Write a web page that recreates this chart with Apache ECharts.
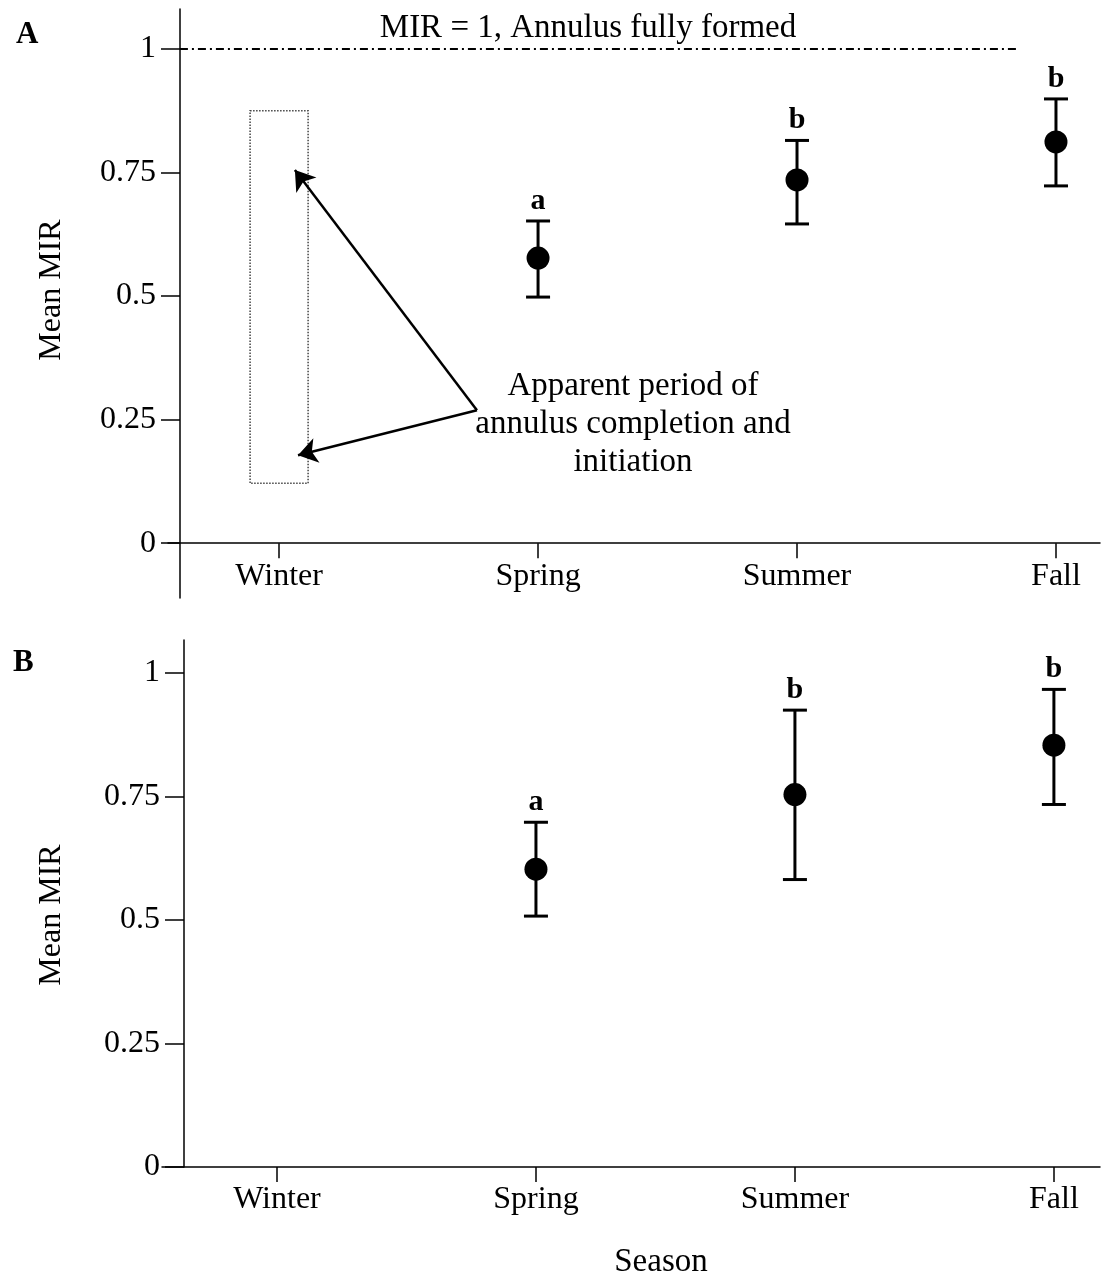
<!DOCTYPE html>
<html><head><meta charset="utf-8">
<script src="https://cdn.jsdelivr.net/npm/echarts@6/dist/echarts.min.js"></script>
<style>html,body{margin:0;padding:0;background:#fff}#c{width:1108px;height:1279px}</style>
</head><body><div id="c"></div>
<script>
// ---- data ----
const seasons = ['Winter', 'Spring', 'Summer', 'Fall'];
const yTicks = [0, 0.25, 0.5, 0.75, 1];
const pointSeasons = ['Spring', 'Summer', 'Fall'];
const meanA = [0.577, 0.735, 0.812];
const lowA = [0.498, 0.646, 0.723];
const highA = [0.652, 0.815, 0.899];
const letterA = ['a', 'b', 'b'];
const meanB = [0.603, 0.754, 0.854];
const lowB = [0.508, 0.582, 0.734];
const highB = [0.698, 0.925, 0.967];
const letterB = ['a', 'b', 'b'];

const FONT = '"Liberation Serif", "Times New Roman", serif';
const sx = s => seasons.indexOf(s) + 1;

function errRender(letters) {
  return function (params, api) {
    const x = api.value(0), lo = api.value(1), hi = api.value(2);
    const pLo = api.coord([x, lo]), pHi = api.coord([x, hi]);
    const cw = 12;
    const st = { stroke: '#000', lineWidth: 3 };
    return {
      type: 'group', children: [
        { type: 'line', shape: { x1: pLo[0], y1: pLo[1], x2: pHi[0], y2: pHi[1] }, style: st },
        { type: 'line', shape: { x1: pHi[0] - cw, y1: pHi[1], x2: pHi[0] + cw, y2: pHi[1] }, style: st },
        { type: 'line', shape: { x1: pLo[0] - cw, y1: pLo[1], x2: pLo[0] + cw, y2: pLo[1] }, style: st },
        { type: 'text', x: pHi[0], y: pHi[1] - 5, style: { text: letters[params.dataIndex], font: 'bold 30px ' + FONT, fill: '#000', align: 'center', verticalAlign: 'bottom' } }
      ]
    };
  };
}

function xAxisCfg(gi, min, max, margin) {
  return {
    type: 'value', gridIndex: gi, min: min, max: max,
    splitLine: { show: false },
    axisLine: { onZero: true, lineStyle: { color: '#000', width: 1.5 } },
    axisTick: { show: true, customValues: [1, 2, 3, 4], length: 15, lineStyle: { color: '#000', width: 1.5 } },
    axisLabel: { customValues: [1, 2, 3, 4], formatter: v => seasons[Math.round(v) - 1] || '', color: '#000', fontSize: 32, fontFamily: FONT, margin: margin }
  };
}
function yAxisCfg(gi, min, max, off) {
  return {
    type: 'value', gridIndex: gi, min: min, max: max, offset: off,
    splitLine: { show: false },
    axisLine: { show: true, onZero: false, lineStyle: { color: '#000', width: 1.5 } },
    axisTick: { show: true, customValues: yTicks, length: 19, lineStyle: { color: '#000', width: 1.5 } },
    axisLabel: { customValues: yTicks, formatter: v => String(v), color: '#000', fontSize: 32, fontFamily: FONT, margin: 24 }
  };
}

const chart = echarts.init(document.getElementById('c'), null, { renderer: 'canvas' });
chart.setOption({
  backgroundColor: '#fff',
  animation: false,
  grid: [
    { left: 168, right: 8, top: 9, height: 589 },
    { left: 162, right: 8, top: 640, height: 527 }
  ],
  xAxis: [xAxisCfg(0, 0.571, 4.170, -37), xAxisCfg(1, 0.556, 4.178, 17)],
  yAxis: [yAxisCfg(0, -0.111, 1.081, -12), yAxisCfg(1, 0, 1.067, -22)],
  series: [
    {
      type: 'custom', xAxisIndex: 0, yAxisIndex: 0, z: 2,
      renderItem: errRender(letterA),
      data: pointSeasons.map((s, i) => [sx(s), lowA[i], highA[i]])
    },
    {
      type: 'scatter', xAxisIndex: 0, yAxisIndex: 0, z: 3,
      symbolSize: 23, itemStyle: { color: '#000', opacity: 1 },
      data: pointSeasons.map((s, i) => [sx(s), meanA[i]])
    },
    {
      type: 'custom', xAxisIndex: 1, yAxisIndex: 1, z: 2,
      renderItem: errRender(letterB),
      data: pointSeasons.map((s, i) => [sx(s), lowB[i], highB[i]])
    },
    {
      type: 'scatter', xAxisIndex: 1, yAxisIndex: 1, z: 3,
      symbolSize: 23, itemStyle: { color: '#000', opacity: 1 },
      data: pointSeasons.map((s, i) => [sx(s), meanB[i]])
    },
    // MIR = 1 reference line
    {
      type: 'line', xAxisIndex: 0, yAxisIndex: 0, data: [],
      markLine: {
        silent: true, symbol: ['none', 'none'], label: { show: false },
        lineStyle: { color: '#000', width: 2, type: [8, 4, 2, 4] },
        data: [[{ coord: [0.617, 1] }, { coord: [3.86, 1] }]]
      }
    },
    // annotation arrows + dotted box
    {
      type: 'line', xAxisIndex: 0, yAxisIndex: 0, data: [],
      markLine: {
        silent: true, symbol: ['none', 'arrow'], symbolSize: 19, label: { show: false },
        itemStyle: { color: '#000' },
        lineStyle: { color: '#000', width: 2.5, type: 'solid' },
        data: [
          [{ coord: [1.764, 0.269] }, { coord: [1.061, 0.755] }],
          [{ coord: [1.764, 0.269] }, { coord: [1.073, 0.178] }]
        ]
      },
      markArea: {
        silent: true,
        itemStyle: { color: 'rgba(0,0,0,0)', borderColor: '#444', borderWidth: 1.5, borderType: 'dotted' },
        data: [[{ coord: [0.888, 0.875] }, { coord: [1.112, 0.121] }]]
      }
    }
  ],
  graphic: [
    { type: 'text', x: 16, y: 35, style: { text: 'A', font: 'bold 31px ' + FONT, fill: '#000', align: 'left', verticalAlign: 'middle' } },
    { type: 'text', x: 13, y: 663, style: { text: 'B', font: 'bold 31px ' + FONT, fill: '#000', align: 'left', verticalAlign: 'middle' } },
    { type: 'text', x: 588, y: 28, style: { text: 'MIR = 1, Annulus fully formed', font: '33px ' + FONT, fill: '#000', align: 'center', verticalAlign: 'middle' } },
    { type: 'text', x: 633, y: 424, style: { text: 'Apparent period of\nannulus completion and\ninitiation', font: '33px ' + FONT, lineHeight: 38, fill: '#000', align: 'center', verticalAlign: 'middle' } },
    { type: 'text', x: 52, y: 290, rotation: Math.PI / 2, style: { text: 'Mean MIR', font: '32px ' + FONT, fill: '#000', align: 'center', verticalAlign: 'middle' } },
    { type: 'text', x: 52, y: 915, rotation: Math.PI / 2, style: { text: 'Mean MIR', font: '32px ' + FONT, fill: '#000', align: 'center', verticalAlign: 'middle' } },
    { type: 'text', x: 661, y: 1262, style: { text: 'Season', font: '33px ' + FONT, fill: '#000', align: 'center', verticalAlign: 'middle' } }
  ]
});
</script>
</body></html>
